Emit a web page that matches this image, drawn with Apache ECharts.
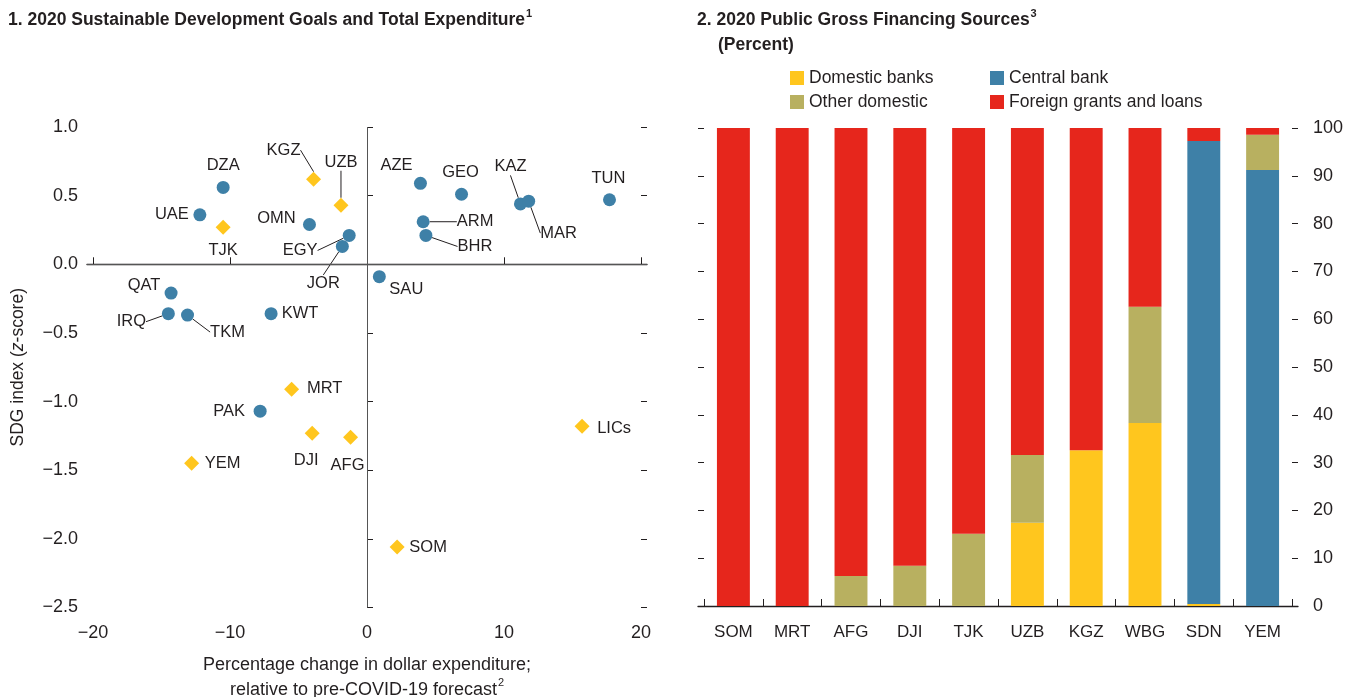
<!DOCTYPE html>
<html>
<head>
<meta charset="utf-8">
<script src="https://cdn.jsdelivr.net/npm/echarts@6/dist/echarts.min.js"></script>
<style>
	html, body { margin: 0; padding: 0; background: #fff; }
	#main { width: 1348px; height: 697px; }
</style>
</head>
<body>
<div id="main"></div>
<script>
// panel 1: SDG index vs expenditure change
var circleNames = ['DZA', 'UAE', 'OMN', 'EGY', 'JOR', 'QAT', 'IRQ', 'TKM', 'KWT', 'SAU', 'AZE', 'GEO', 'KAZ', 'MAR', 'TUN', 'ARM', 'BHR', 'PAK'];
var circleX = [-10.5, -12.2, -4.2, -1.3, -1.8, -14.3, -14.5, -13.1, -7.0, 0.9, 3.9, 6.9, 11.2, 11.8, 17.7, 4.1, 4.3, -7.8];
var circleY = [0.56, 0.36, 0.29, 0.21, 0.13, -0.21, -0.36, -0.37, -0.36, -0.09, 0.59, 0.51, 0.44, 0.46, 0.47, 0.31, 0.21, -1.07];

var diamondNames = ['TJK', 'KGZ', 'UZB', 'MRT', 'DJI', 'AFG', 'YEM', 'LICs', 'SOM'];
var diamondX = [-10.5, -3.9, -1.9, -5.5, -4.0, -1.2, -12.8, 15.7, 2.2];
var diamondY = [0.27, 0.62, 0.43, -0.91, -1.23, -1.26, -1.45, -1.18, -2.06];

var xTicks = [-20, -10, 0, 10, 20];

// panel 2: financing sources (percent)
var barCats = ['SOM', 'MRT', 'AFG', 'DJI', 'TJK', 'UZB', 'KGZ', 'WBG', 'SDN', 'YEM'];
var domesticBanks = [0, 0, 0, 0, 0, 17.4, 32.6, 38.3, 0.4, 0];
var centralBank = [0, 0, 0, 0, 0, 0, 0, 0, 96.9, 91.2];
var otherDomestic = [0, 0, 6.3, 8.4, 15.1, 14.2, 0, 24.3, 0, 7.4];
var foreignGrants = [100, 100, 93.7, 91.6, 84.9, 68.4, 67.4, 37.4, 2.7, 1.4];

// label placement (offset of label centre from marker, px)
var labelOffset = {
	DZA: [0, -22], UAE: [-28, 0], TJK: [0, 23], KGZ: [-30, -29], UZB: [0, -43],
	OMN: [-33, -6], EGY: [-49, 15], JOR: [-19, 37], QAT: [-27, -8], IRQ: [-37, 8],
	TKM: [40, 17], KWT: [29, 0], SAU: [27, 13], AZE: [-24, -18], GEO: [-1, -22],
	KAZ: [-10, -37], MAR: [30, 32], TUN: [-1, -21], ARM: [52, 0], BHR: [49, 11],
	MRT: [33, -1], PAK: [-31, 0], DJI: [-6, 27], AFG: [-3, 28], YEM: [31, 0],
	LICs: [32, 2], SOM: [31, 0]
};
var withLeader = ['KGZ', 'UZB', 'EGY', 'JOR', 'IRQ', 'TKM', 'KAZ', 'MAR', 'ARM', 'BHR'];

var FONT = '"Liberation Sans", Arial, sans-serif';
var TXT = '#231f20';
var BLUE = '#3e80a7';
var YELLOW = '#ffc61e';
var OLIVE = '#b8b060';
var RED = '#e6261c';

function minus(v) {
	return v < 0 ? '\u2212' + Math.abs(v) : '' + v;
}

function points(names, xs, ys) {
	var out = [];
	for (var i = 0; i < names.length; i++) {
		out.push({
			name: names[i],
			value: [xs[i], ys[i]],
			labelLine: { show: withLeader.indexOf(names[i]) >= 0 }
		});
	}
	return out;
}

function placeLabel(names) {
	return function(p) {
		var off = labelOffset[names[p.dataIndex]] || [0, 0];
		return {
			x: p.rect.x + p.rect.width / 2 + off[0],
			y: p.rect.y + p.rect.height / 2 + off[1],
			align: 'center',
			verticalAlign: 'middle'
		};
	};
}

var scatterLabel = {
	show: true,
	formatter: '{b}',
	fontFamily: FONT,
	fontSize: 16.5,
	color: TXT
};
var leader = { show: false, lineStyle: { color: TXT, width: 1 } };

var myChart = echarts.init(document.getElementById('main'));

option = {
	animation: false,
	textStyle: { fontFamily: FONT, color: TXT },
	title: [{
		left: 8, top: 8, padding: 0,
		text: '{t|1. 2020 Sustainable Development Goals and Total Expenditure}{s|1}',
		textStyle: { rich: {
			t: { fontFamily: FONT, fontWeight: 'bold', fontSize: 17.5, color: TXT, lineHeight: 25 },
			s: { fontFamily: FONT, fontWeight: 'bold', fontSize: 11, color: TXT, verticalAlign: 'top', padding: [0, 0, 9, 1] }
		} }
	}, {
		left: 697, top: 8, padding: 0,
		text: '{t|2. 2020 Public Gross Financing Sources}{s|3}\n{p|(Percent)}',
		textStyle: { rich: {
			t: { fontFamily: FONT, fontWeight: 'bold', fontSize: 17.5, color: TXT, lineHeight: 25 },
			s: { fontFamily: FONT, fontWeight: 'bold', fontSize: 11, color: TXT, verticalAlign: 'top', padding: [0, 0, 9, 1] },
			p: { fontFamily: FONT, fontWeight: 'bold', fontSize: 17.5, color: TXT, lineHeight: 25, padding: [0, 0, 0, 21] }
		} }
	}],
	legend: [{
		left: 790, top: 69, orient: 'vertical', padding: 0,
		itemWidth: 14, itemHeight: 14, itemGap: 6, icon: 'rect',
		textStyle: { fontFamily: FONT, fontSize: 17.5, color: TXT },
		data: ['Domestic banks', 'Other domestic']
	}, {
		left: 990, top: 69, orient: 'vertical', padding: 0,
		itemWidth: 14, itemHeight: 14, itemGap: 6, icon: 'rect',
		textStyle: { fontFamily: FONT, fontSize: 17.5, color: TXT },
		data: ['Central bank', 'Foreign grants and loans']
	}],
	grid: [
		{ left: 87, right: 701, top: 127, bottom: 89.5, outerBoundsMode: 'none' },
		{ left: 698, right: 50, top: 128, bottom: 91, outerBoundsMode: 'none' },
		{ left: 704, right: 56, top: 128, bottom: 91, outerBoundsMode: 'none' }
	],
	xAxis: [{
		gridIndex: 0, type: 'value', min: -20.438, max: 20.438,
		splitLine: { show: false },
		axisLine: { show: true, lineStyle: { color: TXT, width: 1.3 } },
		axisTick: { show: true, inside: true, length: 7, customValues: xTicks, lineStyle: { color: TXT } },
		axisLabel: { customValues: xTicks, formatter: minus, fontSize: 18, color: TXT, fontFamily: FONT, margin: 17 },
		name: '{a|Percentage change in dollar expenditure;}\n{a|relative to pre-COVID-19 forecast}{s|2}',
		nameLocation: 'middle', nameGap: 45,
		nameTextStyle: { rich: {
			a: { fontFamily: FONT, fontSize: 18, color: TXT, lineHeight: 25 },
			s: { fontFamily: FONT, fontSize: 11, color: TXT, verticalAlign: 'top', padding: [0, 0, 9, 1] }
		} }
	}, {
		gridIndex: 1, type: 'value', min: 0, max: 1,
		splitLine: { show: false }, axisTick: { show: false }, axisLabel: { show: false },
		axisLine: { show: true, lineStyle: { color: TXT, width: 1.3 } }
	}, {
		gridIndex: 2, type: 'category', data: barCats,
		axisLine: { show: false },
		axisTick: { show: true, inside: true, length: 7, lineStyle: { color: TXT } },
		axisLabel: { interval: 0, fontSize: 17, color: TXT, fontFamily: FONT, margin: 18 }
	}],
	yAxis: [{
		gridIndex: 0, type: 'value', min: -2.5, max: 1, interval: 0.5,
		splitLine: { show: false }, axisLine: { show: false },
		axisTick: { show: true, inside: true, length: 6, lineStyle: { color: TXT } },
		axisLabel: {
			margin: 9, fontSize: 18, color: TXT, fontFamily: FONT,
			formatter: function(v) { return v < 0 ? '\u2212' + Math.abs(v).toFixed(1) : v.toFixed(1); }
		},
		name: '{a|SDG index (}{i|z}{a|-score)}',
		nameLocation: 'middle', nameGap: 60, nameRotate: 90,
		nameTextStyle: { rich: {
			a: { fontFamily: FONT, fontSize: 17.5, color: TXT },
			i: { fontFamily: FONT, fontSize: 17.5, color: TXT, fontStyle: 'italic' }
		} }
	}, {
		gridIndex: 0, type: 'value', min: -2.5, max: 1, interval: 0.5, position: 'right',
		splitLine: { show: false }, axisLine: { show: false }, axisLabel: { show: false },
		axisTick: { show: true, inside: true, length: 6, lineStyle: { color: TXT } }
	}, {
		gridIndex: 1, type: 'value', min: 0, max: 100, interval: 10,
		splitLine: { show: false }, axisLine: { show: false }, axisLabel: { show: false },
		axisTick: { show: true, inside: true, length: 6, lineStyle: { color: TXT } }
	}, {
		gridIndex: 1, type: 'value', min: 0, max: 100, interval: 10, position: 'right',
		splitLine: { show: false }, axisLine: { show: false },
		axisTick: { show: true, inside: true, length: 6, lineStyle: { color: TXT } },
		axisLabel: { margin: 15, fontSize: 18, color: TXT, fontFamily: FONT }
	}, {
		gridIndex: 2, type: 'value', min: 0, max: 100, show: false
	}],
	series: [{
		type: 'scatter', xAxisIndex: 0, yAxisIndex: 0,
		symbol: 'circle', symbolSize: 13,
		itemStyle: { color: BLUE, opacity: 1 },
		data: points(circleNames, circleX, circleY),
		label: scatterLabel, labelLine: leader,
		labelLayout: placeLabel(circleNames),
		markLine: {
			silent: true, symbol: 'none', animation: false,
			label: { show: false },
			lineStyle: { color: '#555', width: 1, type: 'solid' },
			data: [{ yAxis: 0 }, { xAxis: 0 }]
		},
		z: 3
	}, {
		type: 'scatter', xAxisIndex: 0, yAxisIndex: 0,
		symbol: 'diamond', symbolSize: 15,
		itemStyle: { color: YELLOW, opacity: 1 },
		data: points(diamondNames, diamondX, diamondY),
		label: scatterLabel, labelLine: leader,
		labelLayout: placeLabel(diamondNames),
		z: 3
	}, {
		name: 'Domestic banks', type: 'bar', stack: 'fin', xAxisIndex: 2, yAxisIndex: 4,
		barWidth: '56%', itemStyle: { color: YELLOW }, data: domesticBanks
	}, {
		name: 'Central bank', type: 'bar', stack: 'fin', xAxisIndex: 2, yAxisIndex: 4,
		barWidth: '56%', itemStyle: { color: BLUE }, data: centralBank
	}, {
		name: 'Other domestic', type: 'bar', stack: 'fin', xAxisIndex: 2, yAxisIndex: 4,
		barWidth: '56%', itemStyle: { color: OLIVE }, data: otherDomestic
	}, {
		name: 'Foreign grants and loans', type: 'bar', stack: 'fin', xAxisIndex: 2, yAxisIndex: 4,
		barWidth: '56%', itemStyle: { color: RED }, data: foreignGrants
	}]
};
myChart.setOption(option);
</script>
</body>
</html>
